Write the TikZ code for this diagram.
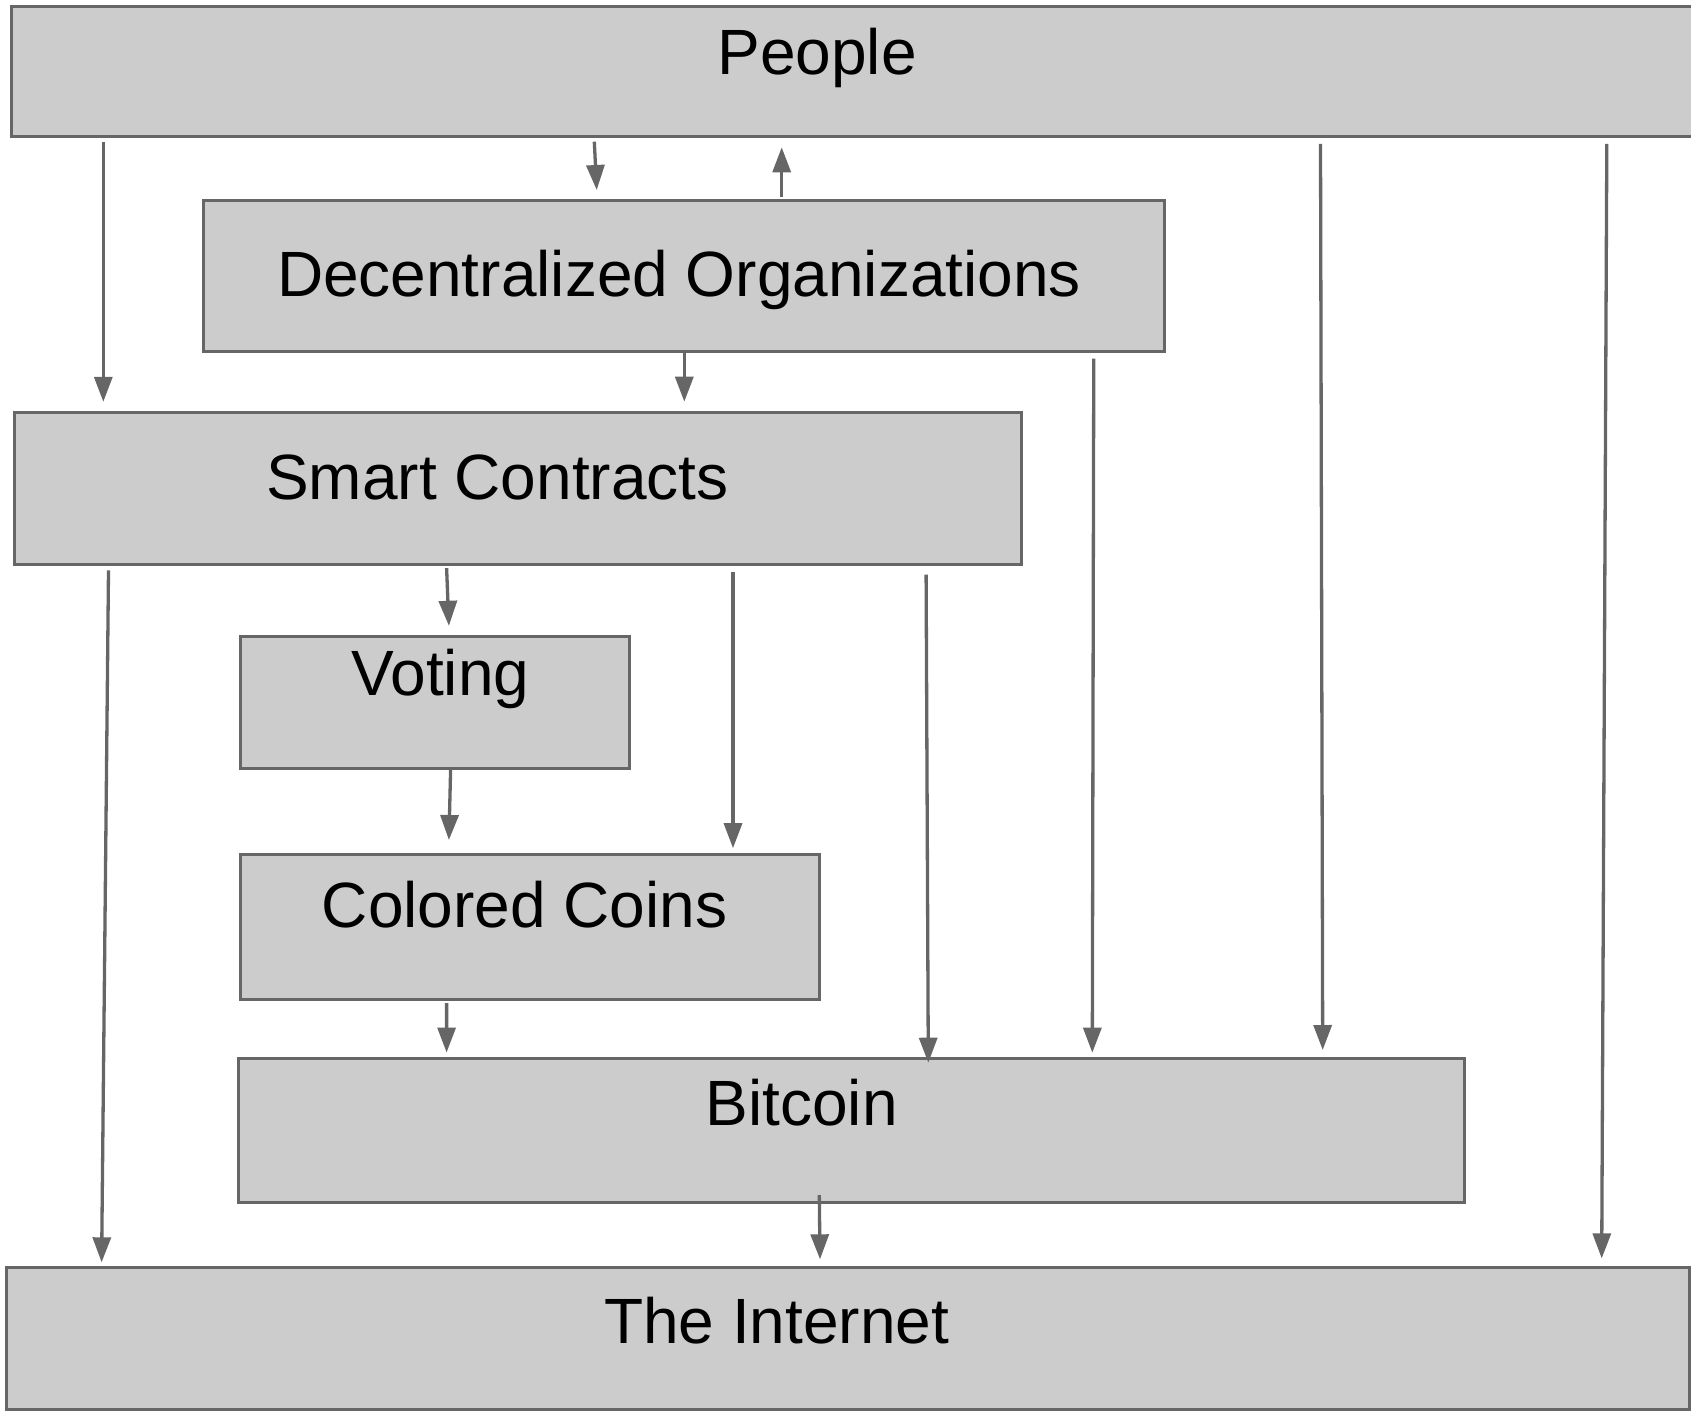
\documentclass[tikz,border=0pt]{standalone}
\usepackage{fontspec}
\setmainfont{Liberation Sans}
\usetikzlibrary{arrows.meta,calc}
\definecolor{boxfill}{HTML}{CCCCCC}
\definecolor{edgegray}{HTML}{666666}
\begin{document}
\begin{tikzpicture}[x=1pt,y=-1pt,
  layer/.style={rectangle, draw=edgegray, fill=boxfill, line width=3pt,
                inner sep=0pt, outer sep=0pt},
  caption/.style={anchor=base, inner sep=0pt, text=black,
                  font=\fontsize{64}{77}\selectfont},
  link/.style={draw=edgegray, line width=3.3pt,
               -{Triangle[length=25pt,width=18pt]}}]
\useasboundingbox (0,0) rectangle (1691,1411);

% stacked layers
\node[layer, minimum width=1682.5pt, minimum height=129.7pt] (people) at (852.75,71.75) {};
\node[layer, minimum width=960.4pt,  minimum height=151.3pt] (dorg)   at (684,275.65) {};
\node[layer, minimum width=1007.2pt, minimum height=152pt]   (sc)     at (518,488.5) {};
\node[layer, minimum width=389pt,    minimum height=131.2pt] (vote)   at (434.5,702.4) {};
\node[layer, minimum width=579.2pt,  minimum height=144.4pt] (cc)     at (529.6,927) {};
\node[layer, minimum width=1225.4pt, minimum height=144.4pt] (btc)    at (851.5,1130.2) {};
\node[layer, minimum width=1682.1pt, minimum height=142.4pt] (net)    at (847.95,1338.2) {};

% layer names
\node[caption] (people-t) at (817,74.6)    {People};
\node[caption] (dorg-t)   at (679,296.6)   {Decentralized Organizations};
\node[caption] (sc-t)     at (497.4,499.4) {Smart Contracts};
\node[caption] (vote-t)   at (440.3,695.5) {Voting};
\node[caption] (cc-t)     at (524.7,927.8) {Colored Coins};
\node[caption] (btc-t)    at (801.7,1125)  {Bitcoin};
\node[caption] (net-t)    at (776.7,1343.5){The Internet};

% dependencies between layers
\draw[link] ($(people.south west)+(91.8,5.8)$)   -- ($(sc.north west)+(88.9,-10.7)$);
\draw[link] ($(people.south west)+(582.8,5.1)$)  -- ($(dorg.north west)+(392.9,-10)$);
\draw[link] ($(dorg.north west)+(577.9,-2.7)$)   -- ($(people.south west)+(770.2,10.7)$);
\draw[link] ($(dorg.south west)+(480.5,0.7)$)    -- ($(sc.north west)+(669.9,-10.8)$);
\draw[link] ($(people.south west)+(1309,7.3)$)   -- ($(btc.north west)+(1083.9,-8)$);
\draw[link] ($(people.south west)+(1595.3,7.3)$) -- ($(net.north west)+(1594.8,-8.6)$);
\draw[link] ($(dorg.south west)+(889.95,7.3)$)   -- ($(btc.north west)+(853.5,-5.3)$);
\draw[link] ($(sc.south west)+(432.2,3.6)$)      -- ($(vote.north west)+(208.9,-11)$);
\draw[link] ($(sc.south west)+(718.6,7.5)$)      -- ($(cc.north west)+(493,-6.6)$);
\draw[link] ($(sc.south west)+(911.7,10.2)$)     -- ($(btc.north west)+(689.5,4.7)$);
\draw[link] ($(sc.south west)+(94.1,5.8)$)       -- ($(net.north west)+(94.7,-4.7)$);
\draw[link] ($(vote.south west)+(210.6,1.7)$)    -- ($(cc.north west)+(208.9,-14.8)$);
\draw[link] ($(cc.south west)+(206.6,3.8)$)      -- ($(btc.north west)+(207.8,-5.5)$);
\draw[link] ($(btc.south west)+(580.5,-7.4)$)    -- ($(net.north west)+(813.1,-7.7)$);
\end{tikzpicture}
\end{document}
